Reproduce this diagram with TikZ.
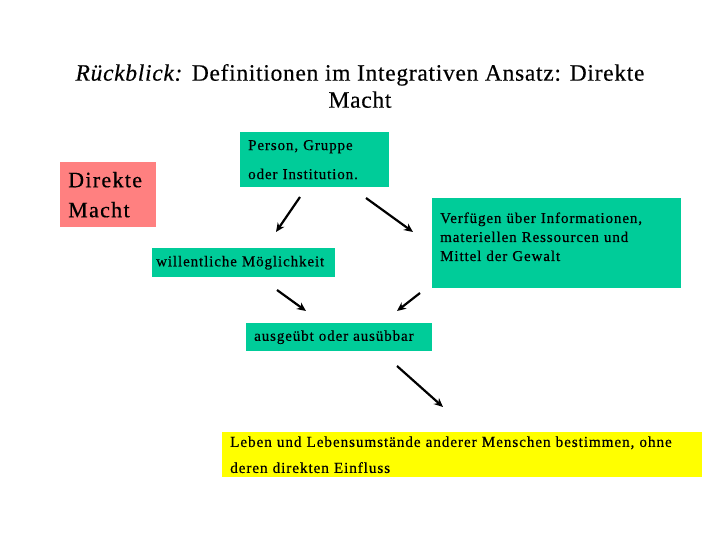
\documentclass[tikz,border=0pt]{standalone}
\usepackage{fontspec}
\setmainfont{Liberation Serif}[FakeBold=0.4]
\newfontfamily\boxfont[LetterSpace=6,FakeBold=0.5]{Liberation Serif}
\newfontfamily\titlefont[LetterSpace=3,FakeBold=0.4]{Liberation Serif}
\usetikzlibrary{arrows.meta}
\definecolor{boxgreen}{RGB}{0,204,153}
\definecolor{boxred}{RGB}{255,128,128}
\definecolor{boxyellow}{RGB}{255,255,0}

\begin{document}
\begin{tikzpicture}[x=1pt,y=-1pt,
  box/.style={anchor=north west, inner xsep=8pt, inner ysep=0pt, align=left,
    font=\boxfont\fontsize{15}{19}\selectfont},
  gbox/.style={box, fill=boxgreen},
  arr/.style={-{Stealth[length=9pt,width=8pt]}, line width=2.2pt}]
  % Frame
  \useasboundingbox (0,0) rectangle (720,540);

  % Title
  \node[align=center, font=\titlefont\fontsize{23.5}{27}\selectfont] (title) at (360,86)
    {\textit{Rückblick:} Definitionen im Integrativen Ansatz: Direkte\\Macht};

  % Boxes
  \node[box, fill=boxred, minimum width=96pt, minimum height=65pt, text width=80pt,
    font=\boxfont\fontsize{22}{30}\selectfont] (macht) at (60,162) {Direkte\\Macht};
  \node[gbox, minimum width=149pt, minimum height=55pt, text width=133pt,
    font=\boxfont\fontsize{15}{29}\selectfont] (person) at (240,132) {Person, Gruppe\\oder Institution.};
  \node[gbox, minimum width=183pt, minimum height=29pt, text width=175pt, inner xsep=4pt]
    (wille) at (152,248) {willentliche Möglichkeit};
  \node[gbox, minimum width=249pt, minimum height=90pt, text width=233pt] (mittel) at (432,198)
    {Verfügen über Informationen,\\materiellen Ressourcen und\\Mittel der Gewalt\\[-6pt]\mbox{}};
  \node[gbox, minimum width=186pt, minimum height=28pt, text width=170pt] (ausgeuebt) at (246,323)
    {ausgeübt oder ausübbar};
  \node[box, fill=boxyellow, minimum width=480pt, minimum height=45pt, text width=464pt,
    font=\boxfont\fontsize{15.2}{26}\selectfont] (leben) at (222,432)
    {Leben und Lebensumstände anderer Menschen bestimmen, ohne\\deren direkten Einfluss};

  % Arrow ends
  \coordinate (a1s) at (300,197); \coordinate (a1e) at (276,232);
  \coordinate (a2s) at (366,198); \coordinate (a2e) at (413,232);
  \coordinate (a3s) at (277,290); \coordinate (a3e) at (306,311);
  \coordinate (a4s) at (420,293); \coordinate (a4e) at (397,311);
  \coordinate (a5s) at (397,366); \coordinate (a5e) at (443,407);

  % Arrows
  \draw[arr] (a1s) -- (a1e);
  \draw[arr] (a2s) -- (a2e);
  \draw[arr] (a3s) -- (a3e);
  \draw[arr] (a4s) -- (a4e);
  \draw[arr] (a5s) -- (a5e);
\end{tikzpicture}
\end{document}
